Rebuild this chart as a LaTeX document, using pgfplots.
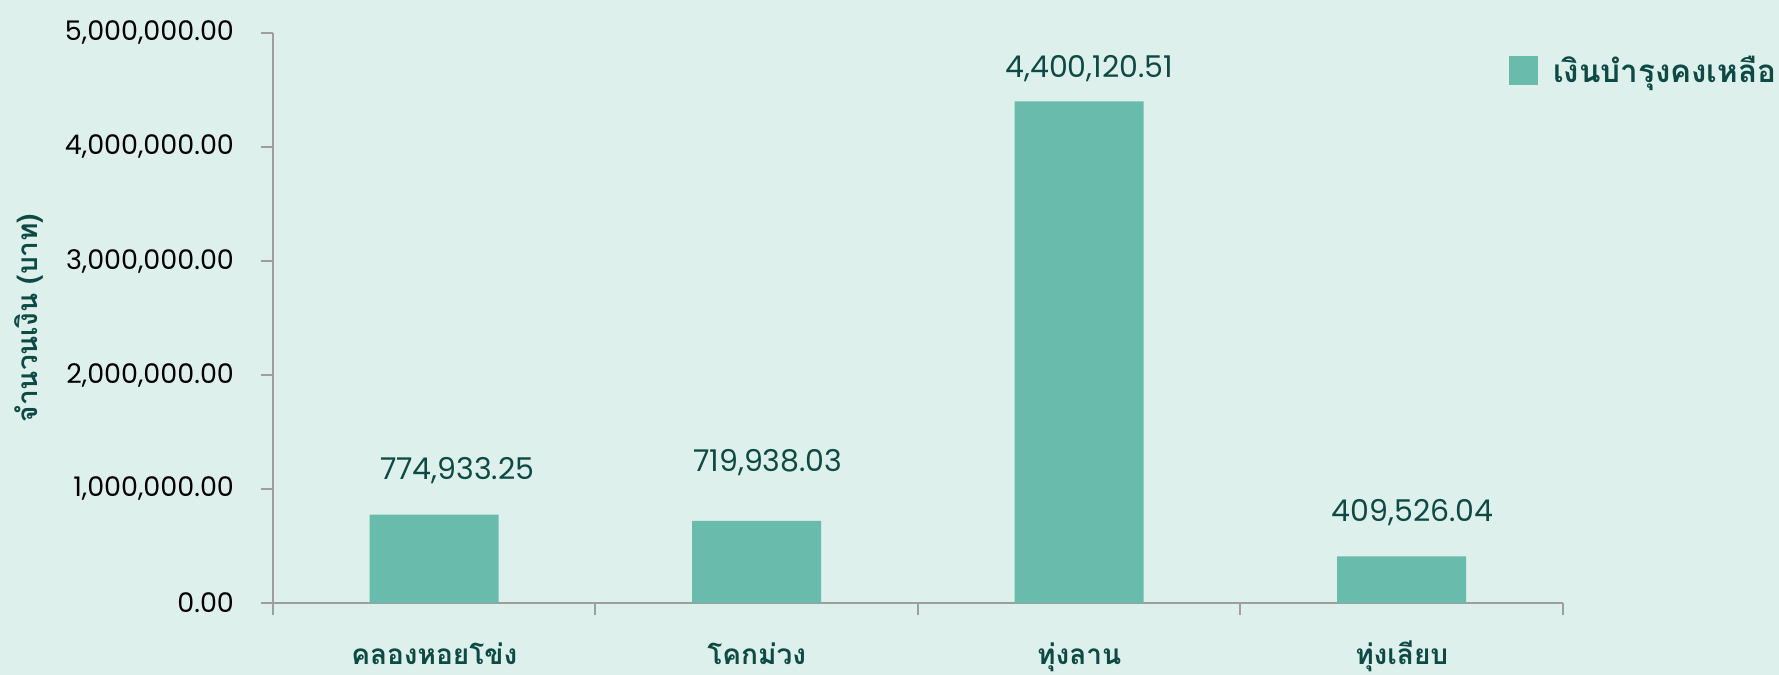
\documentclass[border=0pt]{standalone}
\usepackage{pgfplots}
\pgfplotsset{compat=1.18}
\usepackage{pgfplotstable}
\usepackage{fontspec}
\setmainfont{Poppins}
\newfontfamily\thai[Script=Thai]{Loma}

\definecolor{bgc}{HTML}{DEF0EB}
\definecolor{barc}{HTML}{69BBAB}
\definecolor{txtc}{HTML}{0E4A45}
\definecolor{axc}{HTML}{9E9E9E}

% x = category, y = amount, dx/dy = label offsets (pt)
\pgfplotstableread{
x  y           lab           dx    dy
0  774933.25   774,933.25    11.5  17.8
1  719938.03   719,938.03    5.5   24.5
2  4400120.51  4,400,120.51  5     11.7
3  409526.04   409,526.04    5.5   17.2
}\balance

\begin{document}
\begin{tikzpicture}
\path[use as bounding box, fill=bgc] (-136.5pt,-36pt) rectangle (753pt,301.5pt);
\begin{axis}[
    scale only axis, width=645pt, height=285pt,
    anchor=south west, at={(0pt,0pt)},
    xmin=-0.5, xmax=3.5, ymin=0, ymax=5000000,
    axis x line=bottom, axis y line=left,
    axis line style={axc, line width=1pt, -},
    tick align=outside,
    major tick length=6pt, minor tick length=6pt,
    tick style={axc, line width=1pt},
    xtick={0,1,2,3},
    xticklabels={คลองหอยโข่ง, โคกม่วง, ทุ่งลาน, ทุ่งเลียบ},
    major x tick style={draw=none},
    minor xtick={-0.5,0.5,1.5,2.5,3.5},
    xticklabel style={font=\thai\bfseries\fontsize{14}{16}\selectfont, text=txtc, anchor=base, yshift=-24.5pt},
    ytick={0,1000000,2000000,3000000,4000000,5000000},
    scaled y ticks=false,
    yticklabel style={font=\fontsize{13.5}{15}\selectfont, text=black, xshift=-10pt,
        /pgf/number format/.cd, fixed, fixed zerofill, precision=2, 1000 sep={,}, assume math mode=true},
    ylabel={จำนวนเงิน (บาท)},
    ylabel style={font=\thai\bfseries\fontsize{14}{16}\selectfont, text=txtc, at={(axis description cs:-0.1895,0.5)}, anchor=center},
    legend style={at={(rel axis cs:0.958,0.934)}, anchor=west, draw=none, fill=none, inner sep=0pt,
        font=\thai\bfseries\fontsize{15.7}{18}\selectfont, text=txtc,
        /tikz/every odd column/.append style={column sep=5.5pt}},
    legend image code/.code={\fill[barc] (0pt,-7.25pt) rectangle (14.5pt,7.25pt);},
]
\addplot[ybar, bar width=64.5pt, fill=barc, draw=none,
    nodes near coords, point meta=explicit symbolic,
    visualization depends on={\thisrow{dx} \as \dx},
    visualization depends on={\thisrow{dy} \as \dy},
    every node near coord/.append style={anchor=base, xshift=\dx pt, yshift=\dy pt,
        text=txtc, font=\fontsize{15}{18}\selectfont}]
    table[x=x, y=y, meta=lab] {\balance};
\addlegendentry{เงินบำรุงคงเหลือ}
\end{axis}
\end{tikzpicture}
\end{document}
